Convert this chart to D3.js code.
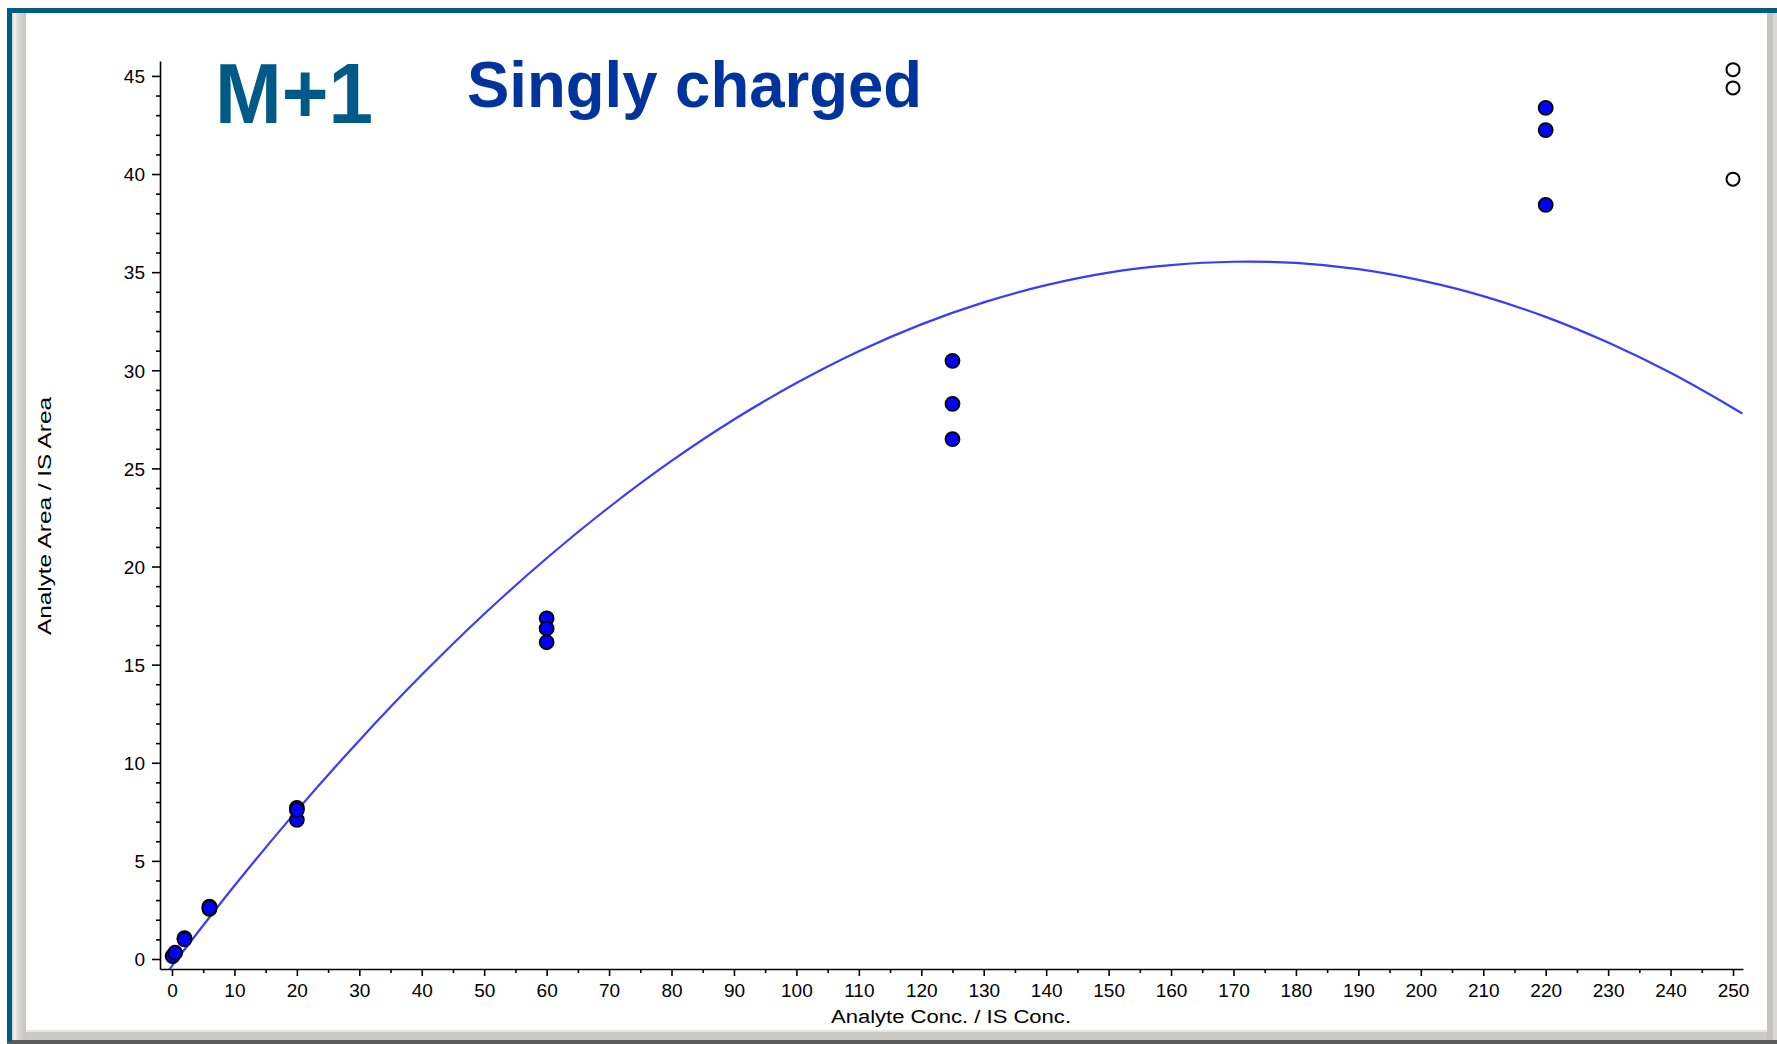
<!DOCTYPE html>
<html>
<head>
<meta charset="utf-8">
<script src="https://cdn.jsdelivr.net/npm/d3@7"></script>
<style>
  body { margin: 0; background: #fff; }
  svg { display: block; }
  .tick text { font-family: "Liberation Sans", Arial, sans-serif; font-size: 19px; fill: #000; }
</style>
</head>
<body>
<svg id="chart" width="1777" height="1044"></svg>
<script>
// calibration standards (used in fit)
var calConc = [0.1, 0.5, 2, 2, 6, 6, 6, 20, 20, 20, 60, 60, 60, 125, 125, 125, 220, 220, 220];
var calRatio = [0.15, 0.32, 1.06, 1.0, 2.67, 2.55, 2.6, 7.70, 7.09, 7.6, 17.36, 16.84, 16.14, 30.48, 28.29, 26.49, 43.37, 42.24, 38.43];

// excluded standards (open circles)
var exclConc = [250, 250, 250];
var exclRatio = [45.32, 44.39, 39.74];

// quadratic fit line
var fitConc = [-1.5, 0, 10, 20, 30, 40, 50, 60, 70, 80, 90, 100, 110, 120, 130, 140, 150, 160, 170, 180, 190, 200, 210, 220, 230, 240, 250, 251.5];
var fitRatio = [-0.98, -0.35, 3.73, 7.56, 11.14, 14.48, 17.58, 20.42, 23.02, 25.38, 27.49, 29.35, 30.97, 32.34, 33.46, 34.34, 34.98, 35.36, 35.53, 35.47, 35.15, 34.58, 33.78, 32.72, 31.41, 29.87, 28.08, 27.79];

// ticks
var xMajor = d3.range(0, 251, 10);
var xMinor = d3.range(5, 250, 10);
var yMajor = d3.range(0, 46, 5);
var yMinor = d3.range(0, 46, 1).filter(function(d){ return d % 5 != 0; });

var font = '"Liberation Sans", Arial, Helvetica, sans-serif';

var svg = d3.select("#chart");

//		==FRAME==
var defs = svg.append("defs");
var grad = defs.append("linearGradient").attr("id", "leftStrip")
	.attr("x1", "0%").attr("x2", "100%").attr("y1", "0%").attr("y2", "0%");
grad.append("stop").attr("offset", "0%").attr("stop-color", "#cfceca");
grad.append("stop").attr("offset", "18%").attr("stop-color", "#f2f2f0");
grad.append("stop").attr("offset", "45%").attr("stop-color", "#d8d7d3");
grad.append("stop").attr("offset", "100%").attr("stop-color", "#c6c5c1");

defs.append("clipPath").attr("id", "plotClip")
	.append("rect").attr("x", 160).attr("y", 55).attr("width", 1590).attr("height", 914);

svg.append("rect").attr("x", 0).attr("y", 0).attr("width", 1777).attr("height", 1044).attr("fill", "#fff");
svg.append("rect").attr("x", 12).attr("y", 1030).attr("width", 1765).attr("height", 10).attr("fill", "#cbcac6");
svg.append("rect").attr("x", 12).attr("y", 1030).attr("width", 1755).attr("height", 2).attr("fill", "#e6e6e4");
svg.append("rect").attr("x", 7).attr("y", 1040).attr("width", 1770).attr("height", 4).attr("fill", "#5c5c5c");
svg.append("rect").attr("x", 1767).attr("y", 13).attr("width", 10).attr("height", 1027).attr("fill", "#c3c2be");
svg.append("rect").attr("x", 1773).attr("y", 13).attr("width", 4).attr("height", 1027).attr("fill", "#d9d8d4");
svg.append("rect").attr("x", 12).attr("y", 13).attr("width", 14).attr("height", 1027).attr("fill", "url(#leftStrip)");
svg.append("rect").attr("x", 7).attr("y", 8).attr("width", 1770).attr("height", 5).attr("fill", "#005b85");
svg.append("rect").attr("x", 7).attr("y", 8).attr("width", 5).attr("height", 1034).attr("fill", "#005b85");

//		==SCALES==
var x = d3.scaleLinear().domain([-1.92, 251.6]).range([160, 1743]);
var y = d3.scaleLinear().domain([-0.51, 45.76]).range([969, 61]);

//		==AXES==
var xAxisG = svg.append("g").attr("transform", "translate(0,969)");
xAxisG.call(d3.axisBottom(x).tickValues(xMajor).tickSize(7).tickSizeOuter(0).tickFormat(d3.format("d")));
xAxisG.selectAll(".tick text").attr("y", 28).attr("dy", 0);
xAxisG.append("g").call(d3.axisBottom(x).tickValues(xMinor).tickSize(4).tickSizeOuter(0).tickFormat(""))
	.select(".domain").remove();

var yAxisG = svg.append("g").attr("transform", "translate(160,0)");
yAxisG.call(d3.axisLeft(y).tickValues(yMajor).tickSize(8).tickSizeOuter(0).tickFormat(d3.format("d")));
yAxisG.selectAll(".tick text").attr("x", -15).attr("dy", "0.36em");
yAxisG.append("g").call(d3.axisLeft(y).tickValues(yMinor).tickSize(4).tickSizeOuter(0).tickFormat(""))
	.select(".domain").remove();

svg.selectAll(".domain, .tick line").attr("stroke", "#000").attr("stroke-width", 1.6);

// axis titles
svg.append("text")
	.attr("x", 951).attr("y", 1023)
	.attr("text-anchor", "middle")
	.attr("font-family", font).attr("font-size", 18)
	.attr("textLength", 240).attr("lengthAdjust", "spacingAndGlyphs")
	.text("Analyte Conc. / IS Conc.");

svg.append("text")
	.attr("transform", "translate(51,516) rotate(-90)")
	.attr("text-anchor", "middle")
	.attr("font-family", font).attr("font-size", 18)
	.attr("textLength", 238).attr("lengthAdjust", "spacingAndGlyphs")
	.text("Analyte Area / IS Area");

//		==FIT LINE==
var fitData = fitConc.map(function(d, i){ return [d, fitRatio[i]]; });
svg.append("path")
	.datum(fitData)
	.attr("clip-path", "url(#plotClip)")
	.attr("fill", "none")
	.attr("stroke", "#3b3bff")
	.attr("stroke-width", 2.2)
	.attr("d", d3.line()
		.x(function(d){ return x(d[0]); })
		.y(function(d){ return y(d[1]); })
		.curve(d3.curveCatmullRom));

//		==POINTS==
svg.append("g").selectAll("circle")
	.data(calConc.map(function(d, i){ return [d, calRatio[i]]; }))
	.enter().append("circle")
	.attr("cx", function(d){ return x(d[0]); })
	.attr("cy", function(d){ return y(d[1]); })
	.attr("r", 7)
	.attr("fill", "#0000ff")
	.attr("stroke", "#000")
	.attr("stroke-width", 1.8);

svg.append("g").selectAll("circle")
	.data(exclConc.map(function(d, i){ return [d, exclRatio[i]]; }))
	.enter().append("circle")
	.attr("cx", function(d){ return x(d[0]); })
	.attr("cy", function(d){ return y(d[1]); })
	.attr("r", 6.5)
	.attr("fill", "#fff")
	.attr("stroke", "#000")
	.attr("stroke-width", 2);

//		==TITLES==
svg.append("text")
	.attr("x", 215).attr("y", 123)
	.attr("font-family", font).attr("font-weight", "bold").attr("font-size", 85)
	.attr("fill", "#005a87")
	.attr("textLength", 158).attr("lengthAdjust", "spacingAndGlyphs")
	.text("M+1");

svg.append("text")
	.attr("x", 467).attr("y", 107)
	.attr("font-family", font).attr("font-weight", "bold").attr("font-size", 64)
	.attr("fill", "#00339c")
	.attr("textLength", 455).attr("lengthAdjust", "spacingAndGlyphs")
	.text("Singly charged");
</script>
</body>
</html>
